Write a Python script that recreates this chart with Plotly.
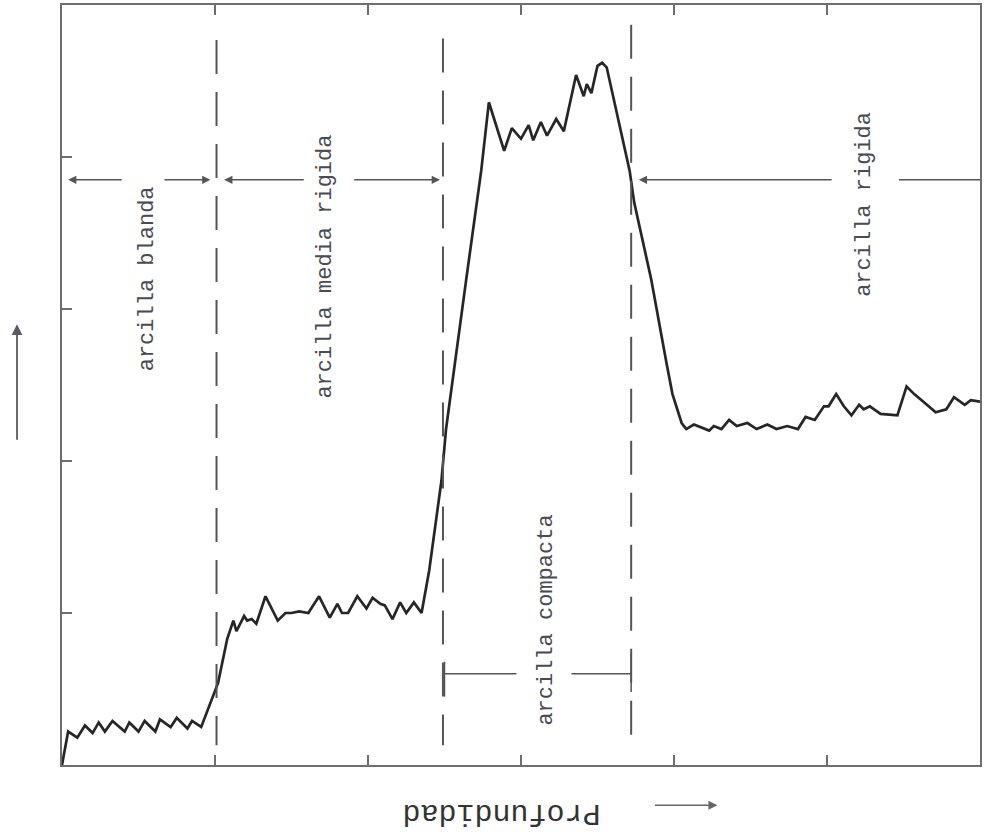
import plotly.graph_objects as go

# ---- data ----
depth = [0.00, 0.04, 0.10, 0.15, 0.20, 0.24, 0.28, 0.33, 0.41, 0.44, 0.50, 0.54, 0.61, 0.64, 0.71, 0.75,
         0.82, 0.85, 0.91, 1.02, 1.08, 1.12, 1.14, 1.19, 1.21, 1.24, 1.27, 1.33, 1.36, 1.41, 1.46, 1.50,
         1.55, 1.61, 1.68, 1.75, 1.80, 1.83, 1.87, 1.93, 1.99, 2.03, 2.08, 2.11, 2.16, 2.21, 2.25, 2.30,
         2.35, 2.40, 2.48, 2.51, 2.64, 2.74, 2.79, 2.89, 2.94, 3.00, 3.05, 3.08, 3.13, 3.17, 3.23, 3.28,
         3.36, 3.41, 3.43, 3.46, 3.50, 3.53, 3.56, 3.71, 3.74, 3.85, 3.95, 3.99, 4.05, 4.08, 4.13, 4.23,
         4.26, 4.31, 4.36, 4.41, 4.48, 4.54, 4.61, 4.67, 4.74, 4.81, 4.86, 4.92, 4.98, 5.01, 5.06, 5.11,
         5.16, 5.21, 5.24, 5.28, 5.35, 5.46, 5.52, 5.57, 5.63, 5.71, 5.78, 5.83, 5.90, 5.94, 6.00]
signal = [0.00, 0.22, 0.18, 0.26, 0.21, 0.28, 0.22, 0.29, 0.22, 0.28, 0.22, 0.29, 0.22, 0.30, 0.25, 0.31,
          0.24, 0.29, 0.25, 0.54, 0.83, 0.95, 0.88, 0.98, 0.95, 0.96, 0.93, 1.11, 1.05, 0.95, 1.00, 1.00,
          1.01, 1.00, 1.11, 0.97, 1.06, 1.00, 1.00, 1.11, 1.03, 1.10, 1.06, 1.05, 0.96, 1.07, 1.00, 1.07,
          1.00, 1.28, 1.87, 2.21, 3.18, 3.91, 4.36, 4.04, 4.19, 4.12, 4.21, 4.11, 4.23, 4.14, 4.25, 4.17,
          4.54, 4.40, 4.48, 4.42, 4.60, 4.62, 4.59, 3.91, 3.70, 3.20, 2.65, 2.44, 2.25, 2.21, 2.24, 2.20,
          2.23, 2.21, 2.27, 2.23, 2.25, 2.21, 2.24, 2.21, 2.23, 2.21, 2.29, 2.27, 2.36, 2.36, 2.44, 2.36,
          2.30, 2.37, 2.34, 2.36, 2.31, 2.30, 2.49, 2.44, 2.39, 2.32, 2.34, 2.42, 2.37, 2.40, 2.39]

boundaries = [1.01, 2.49, 3.72]
boundary_top = [4.77, 4.78, 4.87]
boundary_bottom = [0.13, 0.13, 0.16]

labels = ["arcilla blanda", "arcilla media rigida", "arcilla compacta", "arcilla rigida"]
label_x = [0.56, 1.72, 3.17, 5.24]
label_y = [3.20, 3.28, 0.95, 3.69]

x_ticks = [1, 2, 3, 4, 5]
y_ticks = [1, 2, 3, 4]

x_title = "Profundidad"

# ---- figure ----
LINE = "#262626"
GREY = "#555555"
AX = "#6e6e6e"

fig = go.Figure()
fig.add_trace(go.Scatter(x=depth, y=signal, mode="lines",
                         line=dict(color=LINE, width=2.7), hoverinfo="skip", showlegend=False))

shapes = []
for bx, bt, bb in zip(boundaries, boundary_top, boundary_bottom):
    # drawn top-down so the dash pattern starts with a full dash at the top
    shapes.append(dict(type="line", xref="x", yref="y", x0=bx, x1=bx, y0=bt, y1=bb,
                       line=dict(color=GREY, width=2, dash="34px,18px")))

ARROW_Y = 3.85
shapes.append(dict(type="line", xref="x", yref="y", x0=5.47, x1=6.0, y0=ARROW_Y, y1=ARROW_Y,
                   line=dict(color=GREY, width=1.5)))
BR_Y = 0.60
shapes += [
    dict(type="line", xref="x", yref="y", x0=2.50, x1=2.97, y0=BR_Y, y1=BR_Y, line=dict(color=GREY, width=1.5)),
    dict(type="line", xref="x", yref="y", x0=3.33, x1=3.72, y0=BR_Y, y1=BR_Y, line=dict(color=GREY, width=1.5)),
    dict(type="line", xref="x", yref="y", x0=2.50, x1=2.50, y0=0.45, y1=0.68, line=dict(color=GREY, width=1.5)),
    dict(type="line", xref="x", yref="y", x0=3.72, x1=3.72, y0=0.48, y1=0.73, line=dict(color=GREY, width=1.5)),
]

annotations = []
for tail, tip in [(0.40, 0.04), (0.66, 0.97), (1.59, 1.06), (1.90, 2.47), (5.04, 3.77)]:
    annotations.append(dict(x=tip, y=ARROW_Y, ax=tail, ay=ARROW_Y, xref="x", yref="y",
                            axref="x", ayref="y", text="", showarrow=True,
                            arrowhead=2, arrowsize=1.1, arrowwidth=1.5, arrowcolor=GREY, standoff=0))

for t, lx, ly in zip(labels, label_x, label_y):
    annotations.append(dict(x=lx, y=ly, xref="x", yref="y", text=t, showarrow=False,
                            xanchor="center", yanchor="middle",
                            textangle=-90, font=dict(family="Liberation Mono", size=22, color="#4a4a52")))

annotations.append(dict(x=0.479, y=-0.063, xref="paper", yref="paper", text=x_title, showarrow=False,
                        xanchor="center", yanchor="middle",
                        textangle=180, font=dict(family="Liberation Mono", size=30, color="#333333")))
annotations.append(dict(x=0.714, y=-0.053, xref="paper", yref="paper", ax=-64, ay=0, text="",
                        showarrow=True, arrowhead=2, arrowsize=1.2, arrowwidth=1.5, arrowcolor="#666666"))
annotations.append(dict(x=-0.049, y=0.58, xref="paper", yref="paper", ax=0, ay=117, text="",
                        showarrow=True, arrowhead=2, arrowsize=1.2, arrowwidth=1.8, arrowcolor="#5a5a66"))

fig.update_layout(
    width=985, height=832,
    margin=dict(l=62, r=4, t=3, b=67),
    paper_bgcolor="white", plot_bgcolor="white",
    shapes=shapes, annotations=annotations,
    xaxis=dict(range=[0, 6], tickvals=x_ticks, showticklabels=False, ticks="inside", ticklen=10,
               tickwidth=2, tickcolor=AX, showline=True, linecolor=AX, linewidth=2, mirror="ticks",
               showgrid=False, zeroline=False, fixedrange=True),
    yaxis=dict(range=[0, 5], tickvals=y_ticks, showticklabels=False, ticks="inside", ticklen=10,
               tickwidth=1.5, tickcolor=AX, showline=True, linecolor=AX, linewidth=2, mirror=True,
               showgrid=False, zeroline=False, fixedrange=True),
)

fig.write_html("out.html", config={"displayModeBar": False},
               post_script="document.body.style.margin='0';document.body.style.overflow='hidden';")
